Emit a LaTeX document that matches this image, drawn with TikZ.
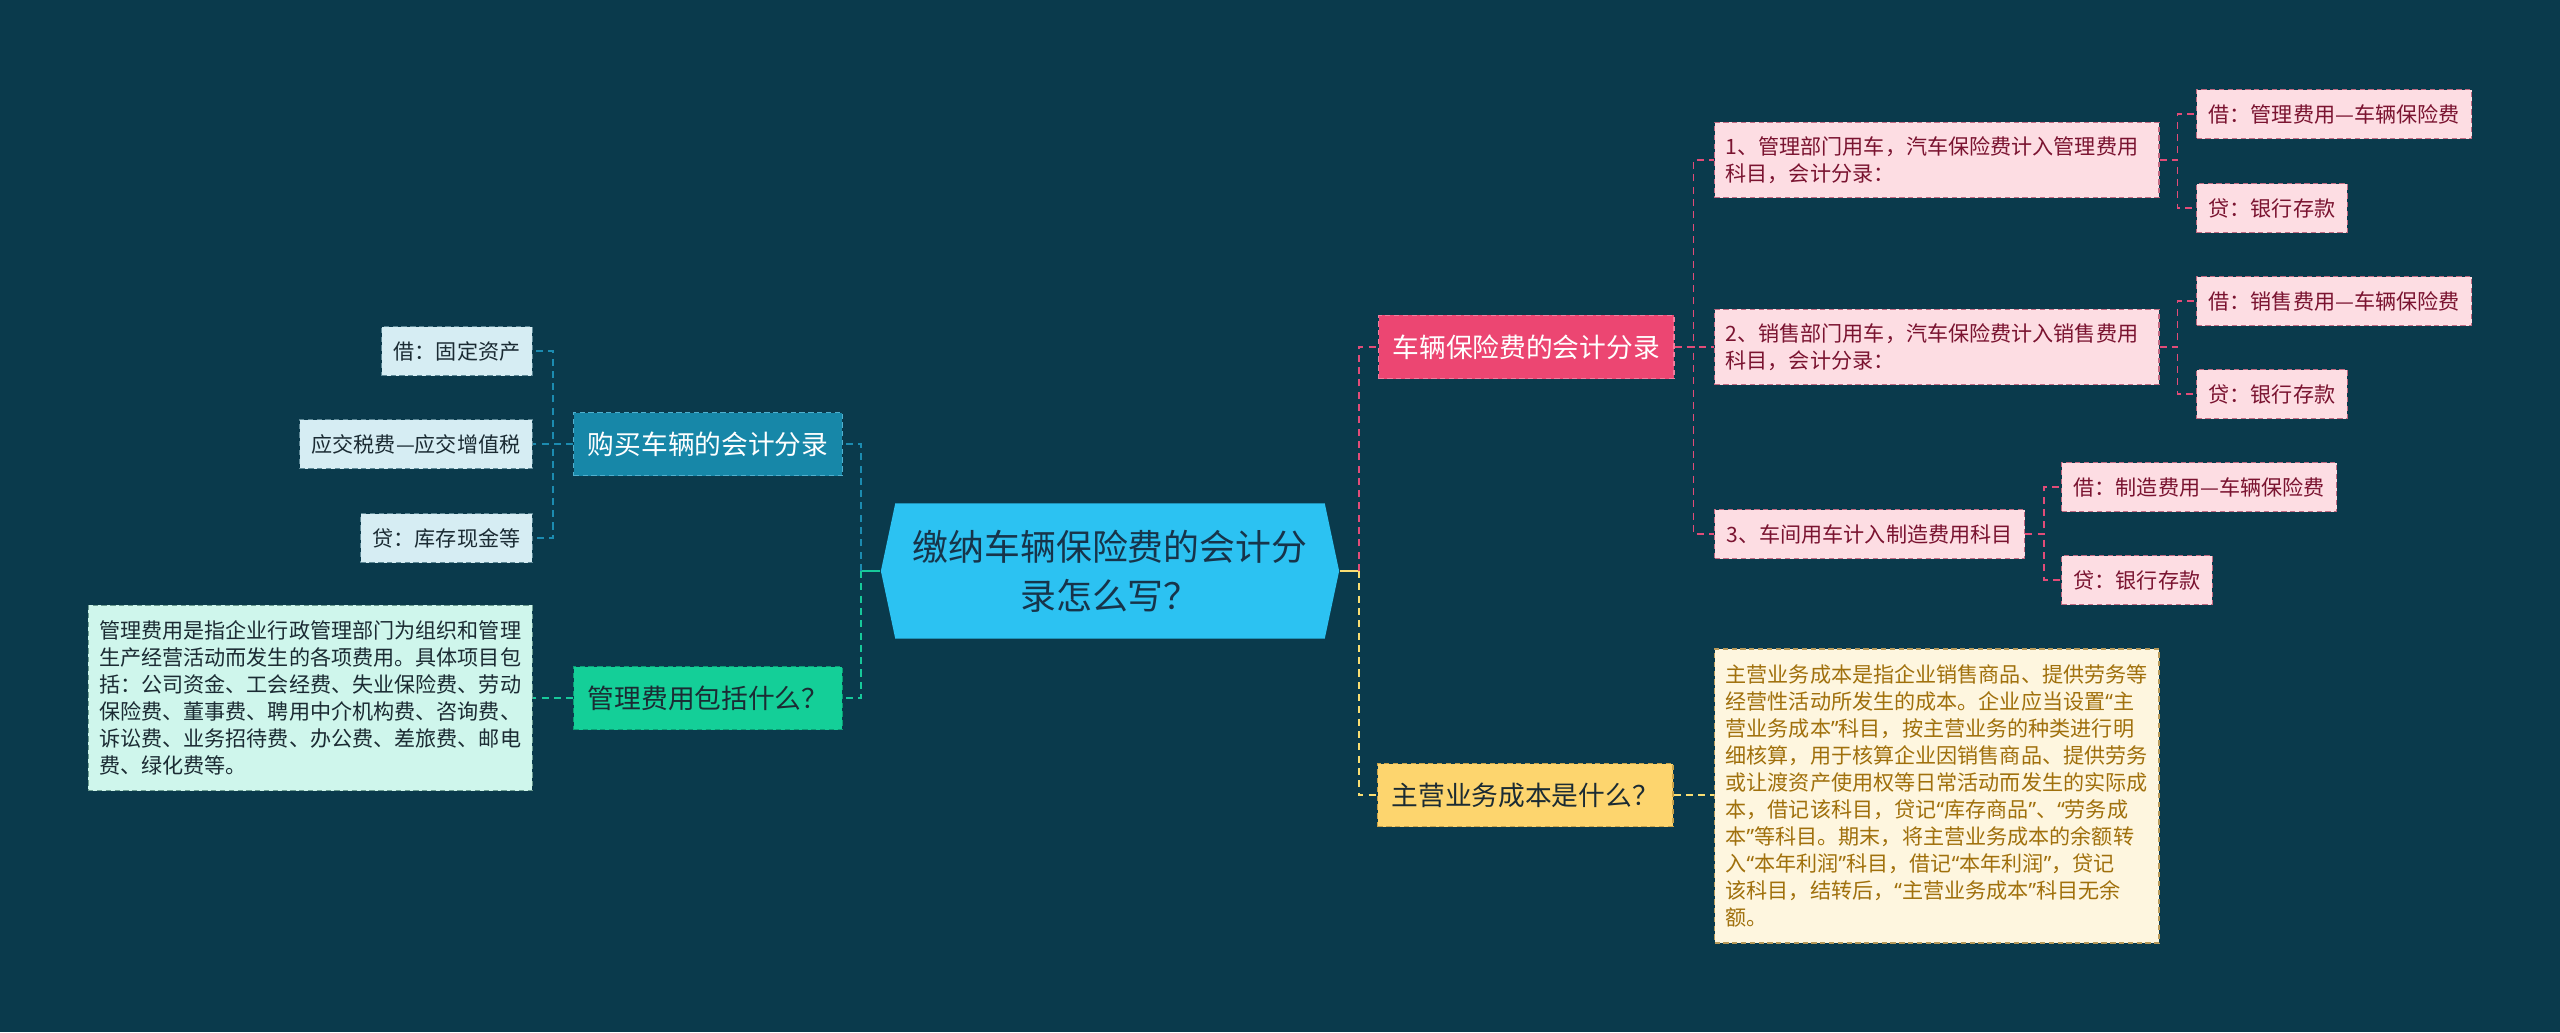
\documentclass[tikz,border=0pt]{standalone}
\usepackage{fontspec}
\newfontfamily\cjk{Noto Sans CJK SC}
\newfontfamily\latinfont{Noto Sans}
\newcommand\openq{{\latinfont“}}
\newcommand\closeq{{\latinfont”}}
\usepackage{tikz}
\usetikzlibrary{shapes.symbols}
\definecolor{bgteal}{HTML}{0A3A4C}
\definecolor{rootblue}{HTML}{2CC2F2}
\definecolor{rootink}{HTML}{17344A}
\definecolor{buyblue}{HTML}{1787A8}
\definecolor{buyedge}{HTML}{4FB0CF}
\definecolor{leafblue}{HTML}{D6EDF3}
\definecolor{leafblueedge}{HTML}{5E8896}
\definecolor{mgmtgreen}{HTML}{14CF98}
\definecolor{mgmtedge}{HTML}{0B9E74}
\definecolor{mint}{HTML}{CFF6EC}
\definecolor{mintedge}{HTML}{6C9C90}
\definecolor{carpink}{HTML}{EC4672}
\definecolor{caredge}{HTML}{F27C9D}
\definecolor{leafpink}{HTML}{FDDDE3}
\definecolor{leafpinkedge}{HTML}{C26A82}
\definecolor{pinkink}{HTML}{7A1330}
\definecolor{costyellow}{HTML}{FDD56E}
\definecolor{costedge}{HTML}{C9A34A}
\definecolor{cream}{HTML}{FEF6DF}
\definecolor{creamedge}{HTML}{B89A5A}
\definecolor{creamink}{HTML}{A0700C}
\definecolor{darkink}{HTML}{1B2B33}
\definecolor{linkblue}{HTML}{1C8BB0}
\definecolor{linkgreen}{HTML}{17C99A}
\definecolor{linkpink}{HTML}{E24C78}
\definecolor{linkyellow}{HTML}{F9DE73}

\begin{document}
\begin{tikzpicture}[
    x=0.01cm, y=-0.01cm,
    every node/.style={font=\cjk},
    root/.style={shape=signal, signal to=west and east, signal pointer angle=156, fill=rootblue, text=rootink,
        minimum width=4.58cm, minimum height=1.35cm, inner sep=0pt, align=center,
        font=\cjk\fontsize{10.2pt}{14pt}\selectfont},
    box/.style={draw, line width=0.35pt, dash pattern=on 1.5pt off 1pt, inner ysep=0pt, inner xsep=0.12cm},
    branch/.style={box, minimum height=0.63cm, inner xsep=0.14cm, font=\cjk\fontsize{7.6pt}{9pt}\selectfont},
    leaf/.style={box, minimum height=0.49cm, font=\cjk\fontsize{6pt}{7.7pt}\selectfont},
    note/.style={leaf, text width=4.22cm, align=left, inner xsep=0.11cm},
    bluebr/.style={branch, fill=buyblue, draw=buyedge, text=white},
    greenbr/.style={branch, fill=mgmtgreen, draw=mgmtedge, text=darkink},
    pinkbr/.style={branch, fill=carpink, draw=caredge, text=white},
    yellowbr/.style={branch, fill=costyellow, draw=costedge, text=darkink},
    blueleaf/.style={leaf, fill=leafblue, draw=leafblueedge, text=darkink},
    pinkleaf/.style={leaf, fill=leafpink, draw=leafpinkedge, text=pinkink},
    link/.style={line width=0.55pt, dash pattern=on 2pt off 1.5pt},
    stem/.style={line width=0.8pt},
]
\fill[bgteal] (0,0) rectangle (2560,1032);
\useasboundingbox (0,0) rectangle (2560,1032);

\node[root] (root) at (1110,571) {缴纳车辆保险费的会计分\\录怎么写？};

% left side
\node[bluebr, anchor=east] (buy) at (843,444) {购买车辆的会计分录};
\node[blueleaf, anchor=east] (d1) at (533,351) {借：固定资产};
\node[blueleaf, anchor=east] (d2) at (533,444) {应交税费—应交增值税};
\node[blueleaf, anchor=east] (d3) at (533,538) {贷：库存现金等};

\node[greenbr, anchor=east] (mgmt) at (843,698) {管理费用包括什么？};
\node[note, fill=mint, draw=mintedge, text=darkink, minimum height=1.85cm, anchor=east] (mdesc) at (533,698)
    {管理费用是指企业行政管理部门为组织和管理\\生产经营活动而发生的各项费用。具体项目包\\括：公司资金、工会经费、失业保险费、劳动\\保险费、董事费、聘用中介机构费、咨询费、\\诉讼费、业务招待费、办公费、差旅费、邮电\\费、绿化费等。};

% right side
\node[pinkbr, anchor=west] (car) at (1378,347) {车辆保险费的会计分录};
\node[pinkleaf, note, fill=leafpink, draw=leafpinkedge, text=pinkink, minimum height=0.75cm, anchor=west] (m1) at (1714,160)
    {1、管理部门用车，汽车保险费计入管理费用\\科目，会计分录：};
\node[pinkleaf, note, fill=leafpink, draw=leafpinkedge, text=pinkink, minimum height=0.75cm, anchor=west] (m2) at (1714,347)
    {2、销售部门用车，汽车保险费计入销售费用\\科目，会计分录：};
\node[pinkleaf, anchor=west] (m3) at (1714,534) {3、车间用车计入制造费用科目};

\node[pinkleaf, anchor=west] (a1) at (2196,114) {借：管理费用—车辆保险费};
\node[pinkleaf, anchor=west] (a2) at (2196,208) {贷：银行存款};
\node[pinkleaf, anchor=west] (b1) at (2196,301) {借：销售费用—车辆保险费};
\node[pinkleaf, anchor=west] (b2) at (2196,394) {贷：银行存款};
\node[pinkleaf, anchor=west] (c1) at (2061,487) {借：制造费用—车辆保险费};
\node[pinkleaf, anchor=west] (c2) at (2061,580) {贷：银行存款};

\node[yellowbr, anchor=west] (cost) at (1377,795) {主营业务成本是什么？};
\node[note, fill=cream, draw=creamedge, text=creamink, minimum height=2.94cm, anchor=west] (cdesc) at (1714,796)
    {主营业务成本是指企业销售商品、提供劳务等\\经营性活动所发生的成本。企业应当设置\openq 主\\营业务成本\closeq 科目，按主营业务的种类进行明\\细核算，用于核算企业因销售商品、提供劳务\\或让渡资产使用权等日常活动而发生的实际成\\本，借记该科目，贷记\openq 库存商品\closeq 、\openq 劳务成\\本\closeq 等科目。期末，将主营业务成本的余额转\\入\openq 本年利润\closeq 科目，借记\openq 本年利润\closeq ，贷记\\该科目，结转后，\openq 主营业务成本\closeq 科目无余\\额。};

% connectors
\draw[stem, draw=linkgreen] (root.west) -- ++(-19,0);
\draw[link, draw=linkblue] (root.west) ++(-19,0) |- (buy.east);
\draw[link, draw=linkgreen] (root.west) ++(-19,0) |- (mgmt.east);
\draw[link, draw=linkblue] (buy.west) -- ++(-20,0) |- (d1.east);
\draw[link, draw=linkblue] (buy.west) -- ++(-20,0) |- (d2.east);
\draw[link, draw=linkblue] (buy.west) -- ++(-20,0) |- (d3.east);
\draw[link, draw=linkgreen] (mgmt.west) -- (mdesc.east);

\draw[stem, draw=linkyellow] (root.east) -- ++(19,0);
\draw[link, draw=linkpink] (root.east) ++(19,0) |- (car.west);
\draw[link, draw=linkyellow] (root.east) ++(19,0) |- (cost.west);
\draw[link, draw=linkpink] (car.east) -- ++(19,0) |- (m1.west);
\draw[link, draw=linkpink] (car.east) -- ++(19,0) |- (m2.west);
\draw[link, draw=linkpink] (car.east) -- ++(19,0) |- (m3.west);
\draw[link, draw=linkpink] (m1.east) -- ++(18,0) |- (a1.west);
\draw[link, draw=linkpink] (m1.east) -- ++(18,0) |- (a2.west);
\draw[link, draw=linkpink] (m2.east) -- ++(18,0) |- (b1.west);
\draw[link, draw=linkpink] (m2.east) -- ++(18,0) |- (b2.west);
\draw[link, draw=linkpink] (m3.east) -- ++(19,0) |- (c1.west);
\draw[link, draw=linkpink] (m3.east) -- ++(19,0) |- (c2.west);
\draw[link, draw=linkyellow] (cost.east) -- (cost.east -| cdesc.west);
\end{tikzpicture}
\end{document}
